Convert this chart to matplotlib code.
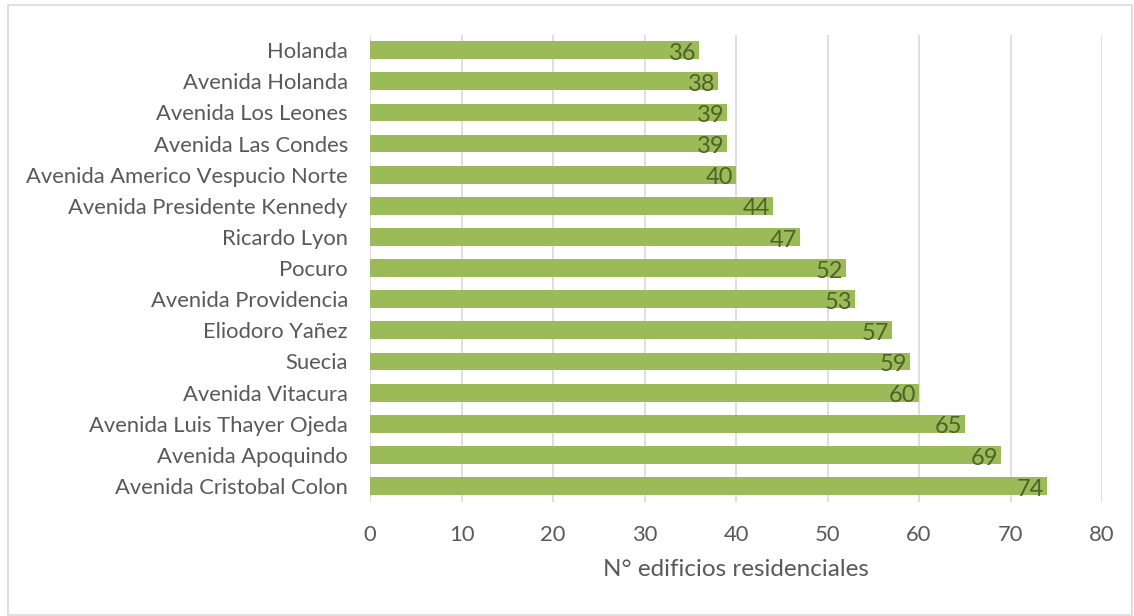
import matplotlib.pyplot as plt
from matplotlib.patches import Rectangle

calles = ['Holanda', 'Avenida Holanda', 'Avenida Los Leones', 'Avenida Las Condes',
          'Avenida Americo Vespucio Norte', 'Avenida Presidente Kennedy', 'Ricardo Lyon',
          'Pocuro', 'Avenida Providencia', 'Eliodoro Yañez', 'Suecia', 'Avenida Vitacura',
          'Avenida Luis Thayer Ojeda', 'Avenida Apoquindo', 'Avenida Cristobal Colon']
edificios = [36, 38, 39, 39, 40, 44, 47, 52, 53, 57, 59, 60, 65, 69, 74]
ticks_x = [0, 10, 20, 30, 40, 50, 60, 70, 80]

plt.rcParams['font.family'] = ['Lato', 'DejaVu Sans']
gris = '#595959'

fig = plt.figure(figsize=(11.34, 6.16), dpi=100)
fig.patches.append(Rectangle((8 / 1134, 1 / 616), 1124 / 1134, 610 / 616,
                             transform=fig.transFigure, fill=False,
                             edgecolor='#d9d9d9', linewidth=1.2))
ax = fig.add_axes([370 / 1134, 1 - 501.6 / 616, 732 / 1134, 467 / 616])

y = range(len(calles))
ax.barh(y, edificios, height=0.57, color='#9bbb59', zorder=3)
for yi, v in zip(y, edificios):
    ax.text(v - 0.3, yi + 0.1, str(v), ha='right', va='center',
            fontsize=17, color='#4f6228', zorder=4)

ax.set_ylim(len(calles) - 0.5, -0.5)
ax.set_yticks(list(y))
ax.set_yticklabels(calles)
ax.set_xlim(0, 80)
ax.set_xticks(ticks_x)
ax.tick_params(axis='both', length=0, labelsize=15.8, colors=gris)
ax.tick_params(axis='y', pad=16)
ax.tick_params(axis='x', pad=17)
ax.xaxis.grid(True, color='#d9d9d9', linewidth=1.2, zorder=0)
for s in ax.spines.values():
    s.set_visible(False)
ax.set_xlabel('N° edificios residenciales', fontsize=17.5, color=gris, labelpad=10)

fig.savefig('out.png', dpi=100)
